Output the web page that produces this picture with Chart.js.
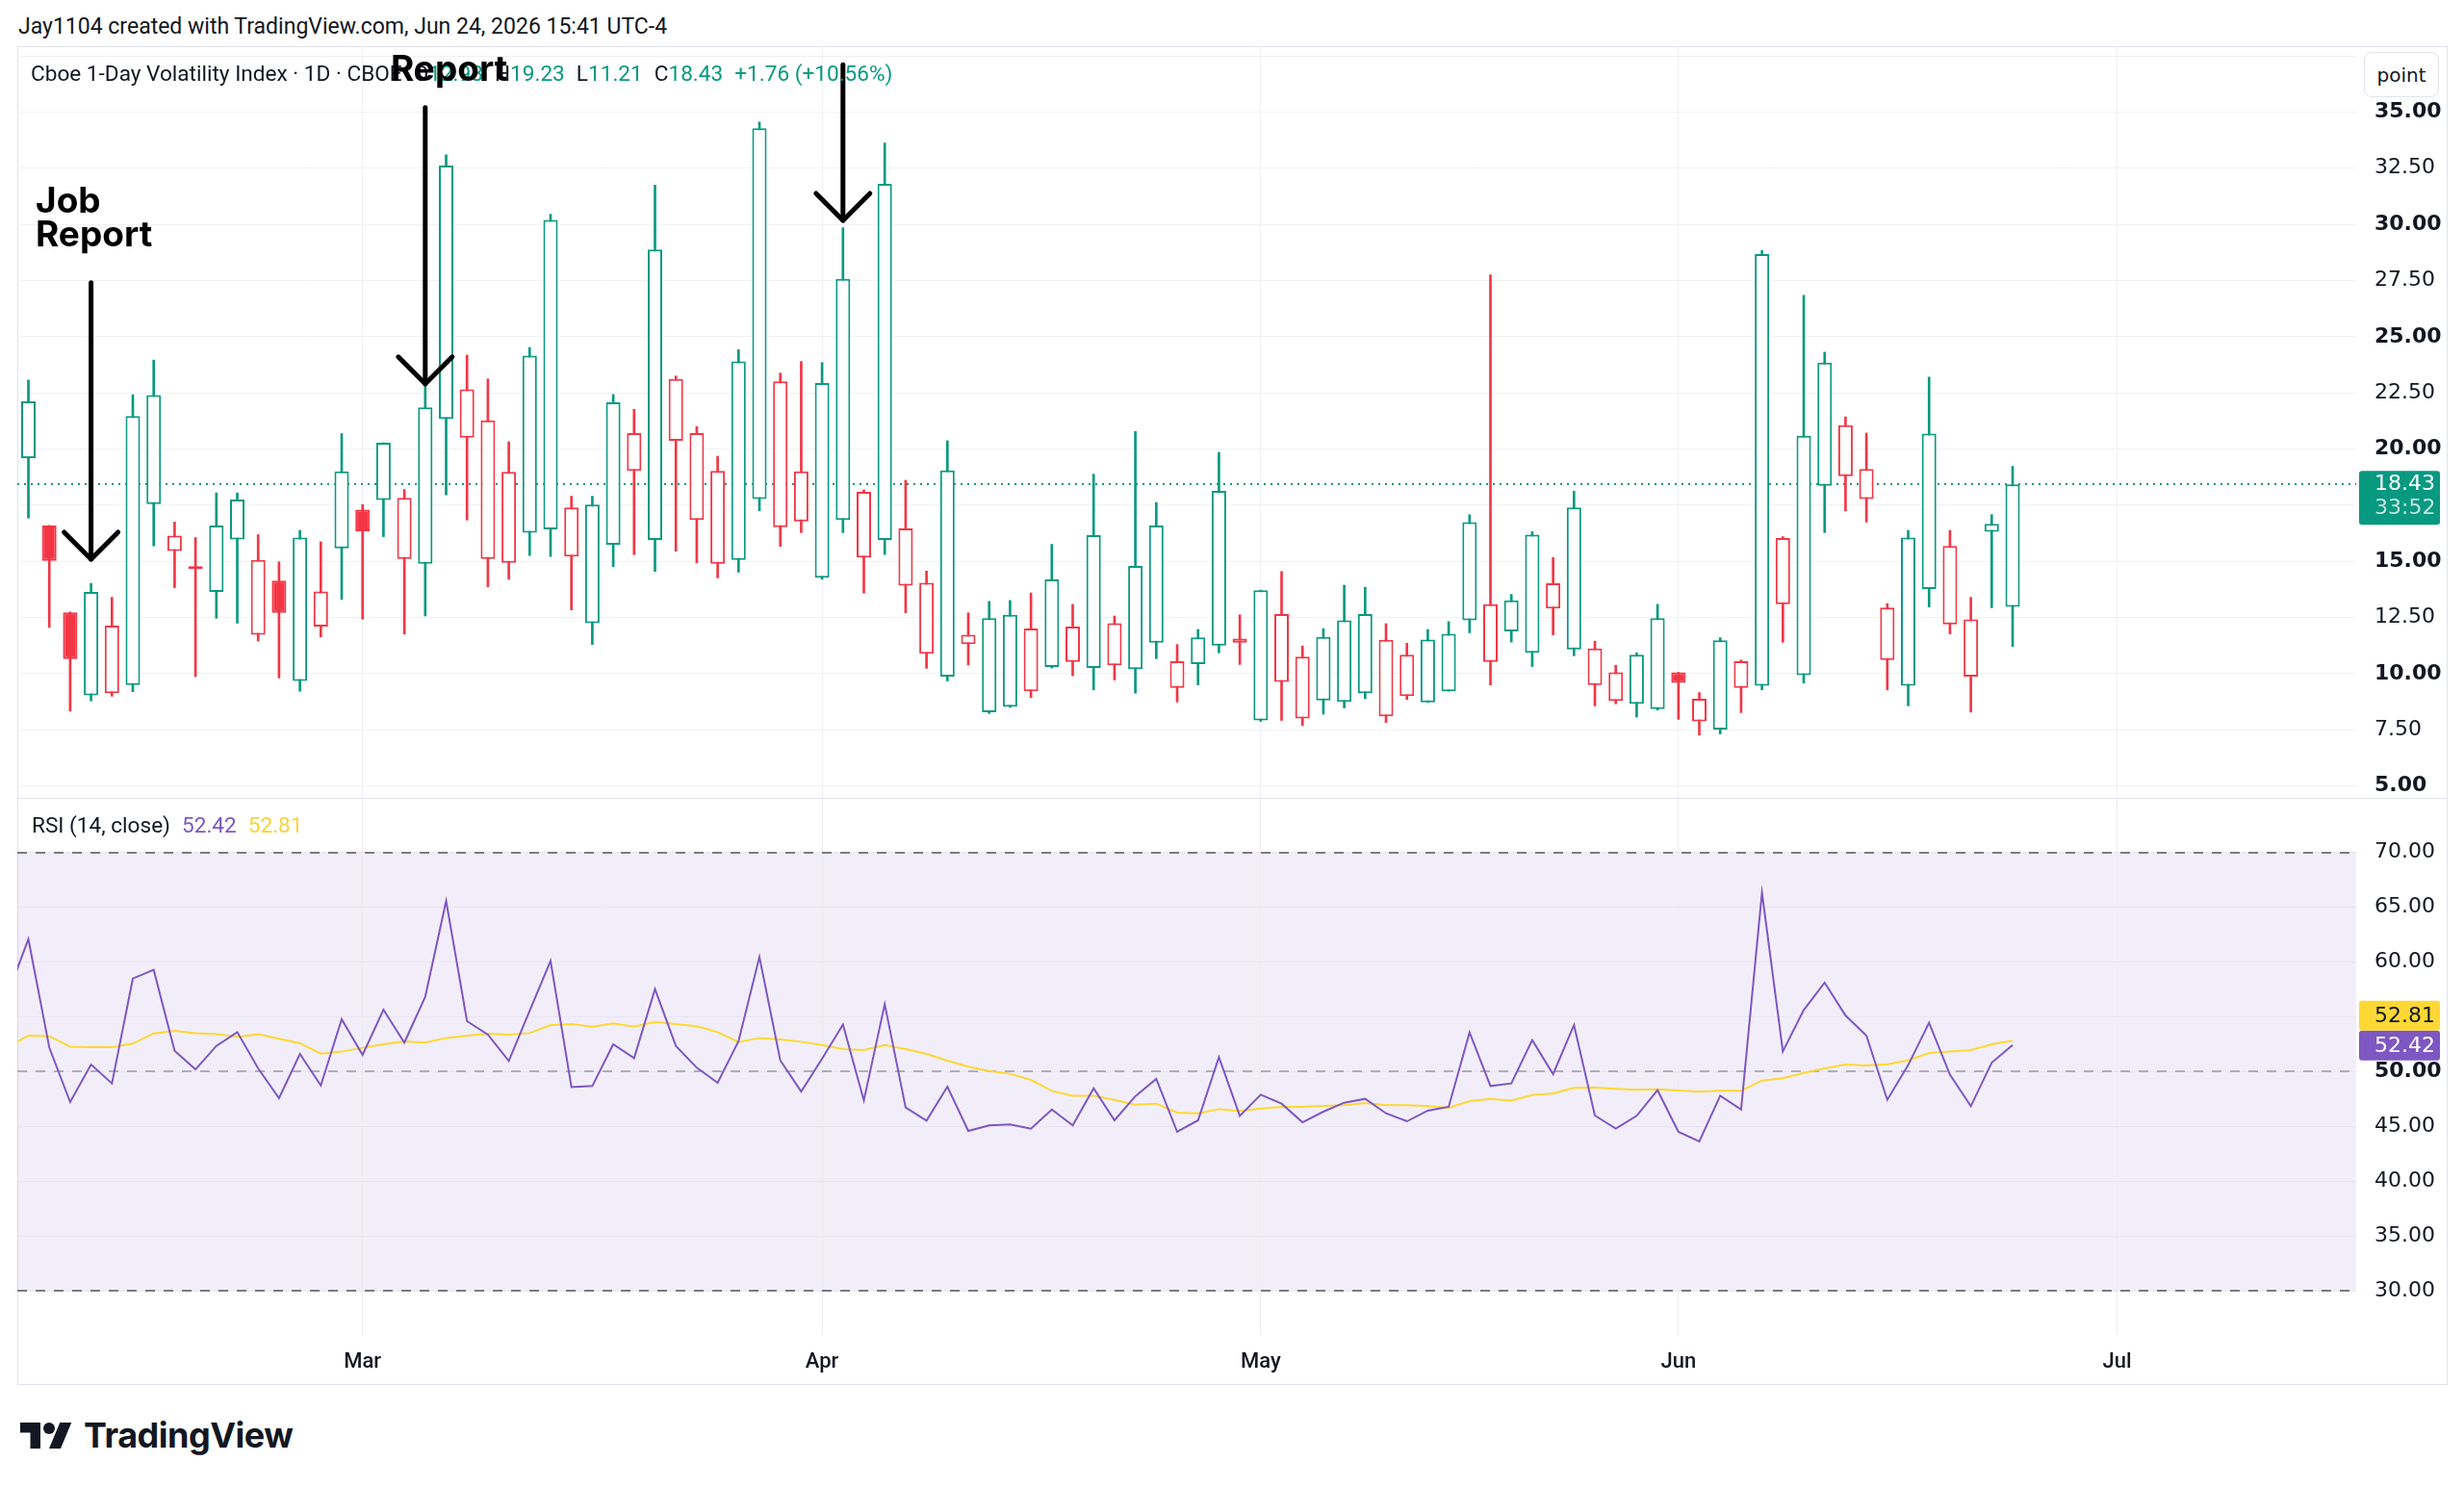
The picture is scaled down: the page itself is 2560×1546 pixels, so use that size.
<!DOCTYPE html>
<html>
<head>
<meta charset="utf-8">
<script src="https://cdn.jsdelivr.net/npm/chart.js@4.4.1/dist/chart.umd.min.js"></script>
<style>
  body { margin:0; background:#fff; width:2560px; height:1546px; position:relative; overflow:hidden; font-family:Roboto, sans-serif; color:#131722; }
  .abs { position:absolute; white-space:pre; }
  .g { color:#089981; }
  .sp { margin-left:12px; }
  #frame { position:absolute; left:18px; top:48px; width:2525px; height:1391px; border:1px solid #e0e3eb; box-sizing:border-box; }
  #pricePane { position:absolute; left:18px; top:48px; width:2524px; height:782px; }
  #rsiPane { position:absolute; left:18px; top:830px; width:2524px; height:608px; }
  #sep { position:absolute; left:18px; top:829px; width:2524px; height:1px; background:#e0e3eb; }
  .note { font-family:Inter, sans-serif; font-weight:700; font-size:37px; line-height:35px; color:#000; }
  #unit { position:absolute; left:2456px; top:54px; width:78px; height:47px; border:1px solid #e0e3eb; border-radius:8px; background:#fff;
          font:20px "DejaVu Sans", sans-serif; line-height:47px; text-align:center; box-sizing:border-box; }
</style>
</head>
<body>
<div class="abs" style="left:19px;top:15px;font-size:23px;line-height:26px">Jay1104 created with TradingView.com, Jun 24, 2026 15:41 UTC-4</div>
<div id="frame"></div>
<div id="pricePane"><canvas id="priceChart"></canvas></div>
<div id="rsiPane"><canvas id="rsiChart"></canvas></div>
<div id="sep"></div>

<div class="abs" style="left:32px;top:64px;font-size:22.6px;line-height:26px">Cboe 1-Day Volatility Index · 1D · CBOE<span class="sp">O</span><span class="g">12.98</span><span class="sp">H</span><span class="g">19.23</span><span class="sp">L</span><span class="g">11.21</span><span class="sp">C</span><span class="g">18.43</span><span class="sp g">+1.76 (+10.56%)</span></div>
<div class="abs" style="left:33px;top:845px;font-size:22.6px;line-height:26px">RSI (14, close)<span class="sp" style="color:#7E57C2">52.42</span><span class="sp" style="color:#F9D339">52.81</span></div>
<div id="unit">point</div>

<div class="abs note" style="left:37px;top:190px">Job
Report</div>
<div class="abs note" style="left:406px;top:53px">Report</div>

<svg style="position:absolute;left:21px;top:1478px" width="54" height="27" viewBox="0 4 36 18"><path fill="#131722" d="M14 22H7V11H0V4h14v18zM28 22h-8l7.5-18h8L28 22z"/><circle fill="#131722" cx="20" cy="8" r="4"/></svg>
<div class="abs" style="left:87px;top:1473px;font-family:Inter, sans-serif;font-weight:700;font-size:36px;line-height:37px;letter-spacing:-0.5px">TradingView</div>

<script>
// daily candles, Feb 5 - Jun 24 (bar index 0..95)
const openP = [
  19.59, 16.60, 12.73, 9.03, 9.13, 9.50, 17.55, 15.46, 14.70, 13.64,
  15.97, 11.73, 14.14, 9.68, 12.10, 15.58, 17.30, 17.73, 15.11, 14.89,
  21.34, 20.50, 15.11, 14.94, 16.28, 16.43, 15.22, 12.25, 15.74, 19.03,
  15.95, 20.37, 16.84, 14.89, 15.07, 17.77, 16.52, 16.78, 14.27, 16.84,
  15.17, 15.95, 13.92, 10.89, 9.87, 11.32, 8.29, 8.53, 9.22, 10.30,
  10.52, 10.26, 10.37, 10.20, 11.38, 9.37, 10.43, 11.25, 11.38, 7.92,
  9.63, 8.01, 8.81, 8.75, 9.13, 8.10, 9.00, 8.72, 9.22, 12.38,
  10.52, 11.88, 10.93, 12.90, 11.08, 9.50, 8.79, 8.66, 8.42, 10.06,
  7.88, 7.51, 9.37, 9.46, 13.09, 9.93, 18.36, 18.79, 17.77, 10.61,
  9.46, 13.77, 12.19, 9.87, 16.32, 12.98
];
const highP = [
  23.07, 16.60, 12.75, 14.02, 13.40, 22.42, 23.96, 16.75, 16.06, 18.05,
  18.05, 16.19, 14.98, 16.38, 15.87, 20.69, 17.53, 20.28, 18.20, 22.79,
  33.10, 24.18, 23.12, 20.32, 24.52, 30.45, 17.90, 17.90, 22.43, 21.77,
  31.75, 23.25, 21.00, 19.68, 24.42, 34.55, 23.38, 23.90, 23.85, 29.85,
  18.18, 33.62, 18.61, 14.57, 20.37, 12.71, 13.22, 13.26, 13.59, 15.76,
  13.09, 18.88, 12.57, 20.78, 17.62, 11.30, 11.97, 19.85, 12.62, 13.72,
  14.55, 11.23, 12.01, 13.94, 13.85, 12.23, 11.36, 11.97, 12.32, 17.08,
  27.75, 13.53, 16.32, 15.17, 18.12, 11.45, 10.37, 10.93, 13.09, 10.06,
  9.16, 11.60, 10.61, 28.83, 16.10, 26.84, 24.31, 21.43, 20.71, 13.12,
  16.38, 23.20, 16.38, 13.40, 17.08, 19.23
];
const lowP = [
  16.93, 12.06, 8.33, 8.79, 9.00, 9.20, 15.69, 13.83, 9.87, 12.47,
  12.25, 11.45, 9.81, 9.22, 11.64, 13.31, 12.43, 16.10, 11.77, 12.57,
  17.96, 16.84, 13.87, 14.20, 15.26, 15.22, 12.84, 11.30, 14.76, 15.30,
  14.55, 15.45, 14.93, 14.27, 14.52, 17.25, 15.67, 16.28, 14.20, 16.28,
  13.59, 15.30, 12.71, 10.24, 9.68, 10.39, 8.23, 8.50, 8.94, 10.25,
  9.91, 9.28, 9.72, 9.13, 10.67, 8.74, 9.50, 10.93, 10.41, 7.88,
  7.92, 7.69, 8.20, 8.48, 8.89, 7.83, 8.85, 8.72, 9.22, 11.82,
  9.50, 11.41, 10.32, 11.73, 10.80, 8.57, 8.66, 8.07, 8.38, 7.97,
  7.27, 7.32, 8.27, 9.28, 11.40, 9.59, 16.28, 17.25, 16.75, 9.28,
  8.57, 12.97, 11.77, 8.29, 12.94, 11.21
];
const closeP = [
  22.12, 15.02, 10.65, 13.64, 12.14, 21.47, 22.40, 16.15, 14.66, 16.60,
  17.75, 15.07, 12.71, 16.06, 13.66, 19.01, 16.34, 20.28, 17.83, 21.86,
  32.62, 22.66, 21.28, 18.98, 24.16, 30.20, 17.40, 17.53, 22.08, 20.71,
  28.88, 23.12, 20.71, 19.03, 23.90, 34.28, 23.01, 19.01, 22.94, 27.57,
  18.10, 31.80, 16.47, 14.05, 19.05, 11.73, 12.47, 12.62, 12.01, 14.20,
  12.10, 16.17, 12.25, 14.80, 16.60, 10.56, 11.62, 18.14, 11.56, 13.72,
  12.66, 10.76, 11.64, 12.38, 12.66, 11.51, 10.84, 11.52, 11.78, 16.75,
  13.09, 13.27, 16.19, 14.03, 17.40, 11.12, 10.06, 10.84, 12.47, 9.59,
  8.88, 11.49, 10.56, 28.68, 16.04, 20.59, 23.85, 21.06, 19.11, 12.94,
  16.06, 20.69, 15.69, 12.42, 16.67, 18.43
];

// RSI(14) and its moving average, first value is the bar just left of the view
const rsiValues = [
  57.00,
  62.09, 52.20, 47.22, 50.64, 48.92, 58.49, 59.28, 51.90, 50.20, 52.34,
  53.60, 50.29, 47.57, 51.61, 48.74, 54.77, 51.52, 55.65, 52.64, 56.82,
  65.58, 54.60, 53.37, 50.97, 55.56, 60.10, 48.59, 48.68, 52.49, 51.23,
  57.53, 52.34, 50.35, 48.98, 52.78, 60.45, 51.02, 48.18, 51.17, 54.30,
  47.36, 56.15, 46.72, 45.52, 48.62, 44.58, 45.08, 45.17, 44.79, 46.54,
  45.08, 48.48, 45.55, 47.75, 49.33, 44.50, 45.55, 51.32, 45.96, 47.89,
  47.07, 45.37, 46.34, 47.16, 47.51, 46.19, 45.46, 46.43, 46.78, 53.57,
  48.68, 48.92, 52.87, 49.77, 54.25, 45.99, 44.79, 45.96, 48.30, 44.50,
  43.62, 47.80, 46.54, 66.34, 51.84, 55.62, 58.11, 55.12, 53.28, 47.42,
  50.59, 54.45, 49.71, 46.84, 50.82, 52.42
];
const rsiMaValues = [
  52.20,
  53.28, 53.22, 52.28, 52.22, 52.22, 52.55, 53.48, 53.72, 53.51, 53.43,
  53.16, 53.40, 52.99, 52.58, 51.64, 51.82, 52.17, 52.49, 52.75, 52.64,
  53.07, 53.28, 53.46, 53.37, 53.51, 54.25, 54.33, 54.10, 54.39, 54.10,
  54.54, 54.33, 54.13, 53.60, 52.69, 53.07, 52.93, 52.72, 52.43, 52.05,
  51.96, 52.43, 52.05, 51.61, 51.00, 50.44, 50.06, 49.80, 49.24, 48.24,
  47.80, 47.80, 47.42, 46.98, 47.07, 46.25, 46.19, 46.57, 46.40, 46.63,
  46.78, 46.78, 46.87, 46.93, 47.13, 46.93, 46.93, 46.84, 46.69, 47.31,
  47.51, 47.36, 47.86, 48.01, 48.51, 48.54, 48.42, 48.33, 48.39, 48.27,
  48.16, 48.24, 48.24, 49.18, 49.39, 49.88, 50.29, 50.64, 50.56, 50.67,
  51.02, 51.70, 51.82, 51.96, 52.49, 52.81
];

const monthTicks = [16, 38, 59, 79, 100];
const monthLabels = ['Mar', 'Apr', 'May', 'Jun', 'Jul'];
const priceTicks = [5, 7.5, 10, 12.5, 15, 17.5, 20, 22.5, 25, 27.5, 30, 32.5, 35, 37.5];
const rsiTicks = [30, 35, 40, 45, 50, 55, 60, 65, 70];
const rsiLevels = [70, 50, 30];

// "Job Report" arrows: bar index, top of the shaft and tip (in price units)
const arrowBars = [3, 19, 39];
const arrowTops = [27.4, 35.2, 37.1];
const arrowTips = [15.1, 22.9, 30.18];

const countdown = '33:52';

const UP = '#089981', DOWN = '#F23645';
const xMin = -0.53, xMax = 111.45;
const axisW = 94;

const candleColor = closeP.map((c, i) => (i === 0 || c >= closeP[i - 1]) ? UP : DOWN);
const candleFill = closeP.map((c, i) => c < openP[i] ? candleColor[i] : '#ffffff');
const last = closeP.length - 1;

function monthGrid(scale) {
  scale.ticks = monthTicks.map(v => ({ value: v }));
}
// right price axis: fixed width and no extra vertical padding from the labels
function fitRight(scale) {
  scale.width = axisW;
  scale.paddingTop = 0;
  scale.paddingBottom = 0;
}

const priceExtras = {
  id: 'priceExtras',
  beforeDatasetsDraw(chart) {
    const { ctx, chartArea, scales: { y } } = chart;
    const py = Math.round(y.getPixelForValue(closeP[last]));
    ctx.save();
    ctx.strokeStyle = UP;
    ctx.lineWidth = 2;
    ctx.setLineDash([2, 5]);
    ctx.beginPath();
    ctx.moveTo(chartArea.left, py);
    ctx.lineTo(chartArea.right, py);
    ctx.stroke();
    ctx.restore();
  },
  afterDatasetsDraw(chart) {
    const { ctx, scales: { x, y } } = chart;
    ctx.save();
    ctx.strokeStyle = '#000';
    ctx.lineCap = 'round';
    ctx.lineJoin = 'round';
    ctx.lineWidth = 5;
    arrowBars.forEach((b, k) => {
      const px = x.getPixelForValue(b);
      const top = y.getPixelForValue(arrowTops[k]);
      const tip = y.getPixelForValue(arrowTips[k]);
      ctx.beginPath();
      ctx.moveTo(px, top);
      ctx.lineTo(px, tip);
      ctx.stroke();
      ctx.beginPath();
      ctx.moveTo(px - 28, tip - 28);
      ctx.lineTo(px, tip);
      ctx.lineTo(px + 28, tip - 28);
      ctx.stroke();
    });
    ctx.restore();
  },
  afterDraw(chart) {
    const { ctx, chartArea, scales: { y } } = chart;
    const py = y.getPixelForValue(closeP[last]);
    const bx = chartArea.right + 3;
    ctx.save();
    ctx.fillStyle = UP;
    ctx.beginPath();
    ctx.roundRect(bx, py - 14, 84, 56, 3);
    ctx.fill();
    ctx.font = '22px "DejaVu Sans"';
    ctx.textBaseline = 'middle';
    ctx.fillStyle = '#ffffff';
    ctx.fillText(closeP[last].toFixed(2), bx + 16, py);
    ctx.fillStyle = 'rgba(255,255,255,0.75)';
    ctx.fillText(countdown, bx + 16, py + 25);
    ctx.restore();
  }
};

new Chart(document.getElementById('priceChart'), {
  type: 'bar',
  data: {
    datasets: [
      {
        label: 'wick',
        data: highP.map((h, i) => ({ x: i, y: [lowP[i], h] })),
        backgroundColor: candleColor,
        barThickness: 2,
        grouped: false,
        borderWidth: 0,
        order: 2
      },
      {
        label: 'body',
        data: openP.map((o, i) => ({ x: i, y: [Math.min(o, closeP[i]), Math.max(o, closeP[i])] })),
        backgroundColor: candleFill,
        borderColor: candleColor,
        borderWidth: 2,
        borderSkipped: false,
        barThickness: 15,
        minBarLength: 3,
        inflateAmount: 0,
        grouped: false,
        order: 1
      }
    ]
  },
  options: {
    responsive: true,
    maintainAspectRatio: false,
    animation: false,
    events: [],
    layout: { padding: 0 },
    plugins: { legend: { display: false }, tooltip: { enabled: false } },
    scales: {
      x: {
        type: 'linear',
        min: xMin,
        max: xMax,
        offset: false,
        grid: { color: '#f0f1f4', drawTicks: false, offset: false },
        border: { display: false },
        ticks: { display: false },
        afterBuildTicks: monthGrid,
        afterFit: s => { s.height = 0; }
      },
      y: {
        position: 'right',
        min: 4.43,
        max: 37.93,
        grid: { color: '#f0f1f4', drawTicks: false },
        border: { display: false },
        afterBuildTicks: s => { s.ticks = priceTicks.map(v => ({ value: v })); },
        afterFit: fitRight,
        ticks: {
          padding: 19,
          color: '#131722',
          font: c => ({ family: 'DejaVu Sans', size: 22, weight: (c.tick && c.tick.value % 5 === 0) ? 'bold' : 'normal' }),
          callback: v => v > 35 ? '' : v.toFixed(2)
        }
      }
    }
  },
  plugins: [priceExtras]
});

const rsiExtras = {
  id: 'rsiExtras',
  beforeDraw(chart) {
    const { ctx, chartArea, scales: { y } } = chart;
    const top = y.getPixelForValue(rsiLevels[0]);
    const bot = y.getPixelForValue(rsiLevels[2]);
    ctx.save();
    ctx.fillStyle = 'rgba(126,87,194,0.1)';
    ctx.fillRect(chartArea.left, top, chartArea.right - chartArea.left, bot - top);
    ctx.restore();
  },
  beforeDatasetsDraw(chart) {
    const { ctx, chartArea, scales: { y } } = chart;
    ctx.save();
    ctx.lineWidth = 2;
    ctx.setLineDash([10, 9]);
    rsiLevels.forEach(v => {
      const py = Math.round(y.getPixelForValue(v));
      ctx.strokeStyle = v === 50 ? 'rgba(120,123,134,0.55)' : '#787B86';
      ctx.beginPath();
      ctx.moveTo(chartArea.left, py);
      ctx.lineTo(chartArea.right, py);
      ctx.stroke();
    });
    ctx.restore();
  },
  afterDraw(chart) {
    const { ctx, chartArea, scales: { y } } = chart;
    const r = rsiValues[rsiValues.length - 1];
    const m = rsiMaValues[rsiMaValues.length - 1];
    const py = y.getPixelForValue(r);
    const bx = chartArea.right + 3;
    ctx.save();
    ctx.font = '22px "DejaVu Sans"';
    ctx.textBaseline = 'middle';
    ctx.fillStyle = '#7E57C2';
    ctx.beginPath(); ctx.roundRect(bx, py - 15, 84, 31, 3); ctx.fill();
    ctx.fillStyle = '#FDD835';
    ctx.beginPath(); ctx.roundRect(bx, py - 46, 84, 31, 3); ctx.fill();
    ctx.fillStyle = '#ffffff';
    ctx.fillText(r.toFixed(2), bx + 16, py + 1);
    ctx.fillStyle = '#131722';
    ctx.fillText(m.toFixed(2), bx + 16, py - 30);
    ctx.restore();
  }
};

new Chart(document.getElementById('rsiChart'), {
  type: 'line',
  data: {
    datasets: [
      {
        label: 'RSI',
        data: rsiValues.map((v, i) => ({ x: i - 1, y: v })),
        borderColor: '#7E57C2',
        borderWidth: 2,
        pointRadius: 0,
        tension: 0
      },
      {
        label: 'RSI-based MA',
        data: rsiMaValues.map((v, i) => ({ x: i - 1, y: v })),
        borderColor: '#FDD835',
        borderWidth: 2,
        pointRadius: 0,
        tension: 0
      }
    ]
  },
  options: {
    responsive: true,
    maintainAspectRatio: false,
    animation: false,
    events: [],
    layout: { padding: 0, autoPadding: false },
    plugins: { legend: { display: false }, tooltip: { enabled: false } },
    scales: {
      x: {
        type: 'linear',
        min: xMin,
        max: xMax,
        offset: false,
        grid: { color: '#ecebf2', drawTicks: false },
        border: { display: false },
        afterBuildTicks: monthGrid,
        afterFit: s => { s.height = 51; },
        ticks: {
          padding: 15,
          maxRotation: 0,
          autoSkip: false,
          color: '#131722',
          font: { family: 'Roboto', size: 22, weight: '500' },
          callback: v => monthLabels[monthTicks.indexOf(v)] || ''
        }
      },
      y: {
        position: 'right',
        min: 25.96,
        max: 74.89,
        grid: { color: '#e9e6f1', drawTicks: false },
        border: { display: false },
        afterBuildTicks: s => { s.ticks = rsiTicks.map(v => ({ value: v })); },
        afterFit: fitRight,
        ticks: {
          padding: 19,
          color: '#131722',
          font: c => ({ family: 'DejaVu Sans', size: 22, weight: (c.tick && c.tick.value === 50) ? 'bold' : 'normal' }),
          callback: v => v.toFixed(2)
        }
      }
    }
  },
  plugins: [rsiExtras]
});
</script>
</body>
</html>
